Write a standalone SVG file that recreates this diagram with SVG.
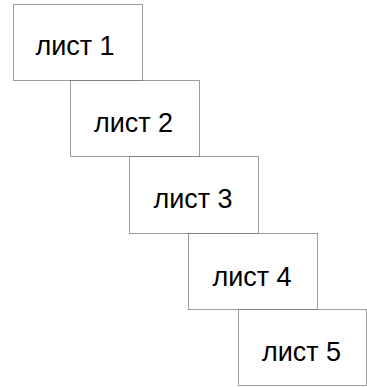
<svg xmlns="http://www.w3.org/2000/svg" width="367" height="387" viewBox="0 0 367 387">
<style>
.box{fill:#ffffff;stroke:#000000;stroke-opacity:0.38;stroke-width:1}
.lbl{font-family:"Liberation Sans",Arial,sans-serif;font-size:27px;fill:#000000;text-anchor:middle}
</style>
<rect width="367" height="387" fill="#ffffff"/>
<g id="connectors"></g>
<g id="node1"><rect class="box" x="13.5" y="4.5" width="129" height="76"/><text class="lbl" x="75" y="54.5">лист 1</text></g>
<g id="node2"><rect class="box" x="70.5" y="80.5" width="129" height="76"/><text class="lbl" x="133.5" y="131.5">лист 2</text></g>
<g id="node3"><rect class="box" x="129.5" y="156.5" width="129" height="77"/><text class="lbl" x="193" y="208">лист 3</text></g>
<g id="node4"><rect class="box" x="188.5" y="233.5" width="129" height="76"/><text class="lbl" x="252" y="285.5">лист 4</text></g>
<g id="node5"><rect class="box" x="238.5" y="309.5" width="128" height="76"/><text class="lbl" x="301.5" y="361">лист 5</text></g>
</svg>
